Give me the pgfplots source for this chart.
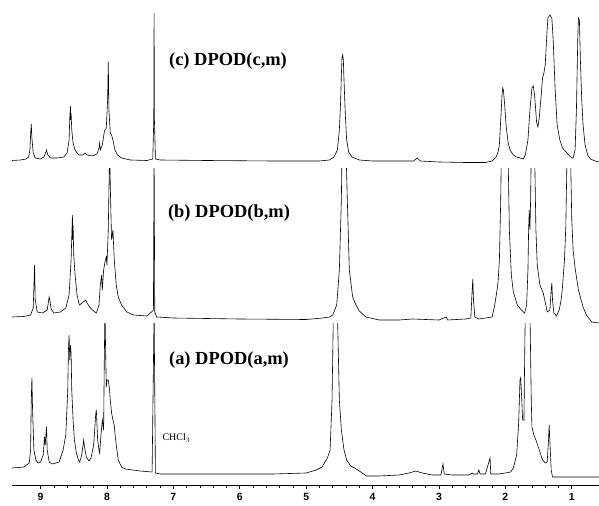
\documentclass[border=0pt]{standalone}
\usepackage{fontspec}
\setmainfont{Liberation Serif}
\newfontfamily\tickfont{Liberation Sans}
\usepackage{pgfplots}
\usepackage{pgfplotstable}
\pgfplotsset{compat=1.18}

\pgfplotstableread{
x y
9.43 160.5
9.30 160
9.22 159
9.18 157
9.16 150
9.15 135
9.14 124
9.13 138
9.11 153
9.08 158
9.00 159
8.95 157
8.92 152
8.91 150
8.89 155
8.85 158
8.75 158
8.65 157
8.60 153
8.57 140
8.56 118
8.55 106
8.545 120
8.54 113
8.53 130
8.51 143
8.48 150
8.46 152
8.42 155
8.36 155
8.33 153
8.30 155
8.22 156
8.15 154
8.12 148
8.11 143
8.10 150
8.07 145
8.04 132
8.03 130
8.01 128
7.99 100
7.98 62
7.97 110
7.95 133
7.93 135
7.91 140
7.88 150
7.84 155
7.78 158
7.65 160
7.40 160.5
7.31 159
7.295 120
7.29 13
7.285 120
7.27 159
7.20 160
6.50 160.5
5.50 161
4.80 161
4.65 160
4.58 157
4.53 150
4.50 130
4.48 100
4.47 75
4.46 58
4.45 55
4.44 60
4.43 80
4.41 115
4.39 140
4.36 152
4.31 157
4.20 160
4.00 161
3.50 161
3.38 161
3.33 158
3.28 161
3.00 162
2.60 162.5
2.30 162.5
2.20 161
2.14 157
2.11 152
2.09 145
2.07 120
2.05 95
2.04 88
2.03 90
2.01 105
1.99 125
1.96 142
1.93 150
1.88 155
1.83 157
1.78 158
1.73 159
1.70 155
1.66 140
1.63 110
1.60 88
1.58 86
1.56 95
1.53 122
1.51 127
1.49 118
1.46 95
1.44 78
1.42 73
1.40 65
1.38 40
1.36 18
1.33 15
1.30 18
1.28 40
1.25 90
1.22 125
1.18 140
1.14 148
1.10 151
1.06 154
1.00 158
0.98 158
0.95 150
0.93 110
0.91 40
0.90 18
0.885 20
0.87 60
0.85 100
0.83 125
0.80 145
0.76 155
0.72 159
0.65 161
0.59 162
}\specC

\pgfplotstableread{
x y
9.43 317
9.25 316.5
9.15 315
9.11 308
9.09 265
9.08 300
9.05 312
8.97 313
8.90 310
8.87 297
8.86 300
8.84 309
8.80 313
8.70 312
8.62 308
8.57 295
8.54 260
8.52 215
8.515 240
8.51 225
8.50 255
8.48 275
8.45 295
8.42 304
8.41 305
8.36 302
8.32 300
8.30 303
8.25 308
8.20 311
8.16 313
8.12 305
8.10 285
8.08 275
8.07 290
8.05 270
8.03 262
8.01 257
8.00 265
7.98 230
7.96 150
7.945 200
7.93 240
7.91 230
7.89 260
7.86 285
7.83 297
7.78 305
7.70 312
7.60 315
7.40 316
7.33 312
7.30 310
7.29 150
7.28 312
7.25 317
7.00 318
6.00 319
5.00 319.5
4.75 318
4.65 317
4.60 315
4.54 305
4.50 270
4.47 200
4.46 150
4.40 150
4.38 200
4.35 270
4.30 297
4.25 305
4.20 311
4.10 317
3.90 320
3.60 320
3.40 319
3.00 320
2.89 317
2.87 320
2.60 319
2.52 318
2.50 290
2.49 279
2.48 300
2.46 317
2.40 319
2.30 318
2.20 317
2.16 305
2.13 292
2.11 282
2.09 260
2.07 200
2.06 150
1.96 150
1.94 230
1.91 275
1.88 292
1.82 305
1.76 310
1.71 313
1.68 305
1.66 270
1.65 230
1.64 210
1.63 230
1.62 200
1.61 150
1.56 150
1.54 230
1.52 265
1.48 285
1.43 293
1.40 302
1.37 312
1.33 310
1.31 290
1.30 283
1.29 300
1.27 313
1.23 316
1.19 310
1.16 300
1.14 287
1.11 260
1.09 227
1.07 150
1.02 150
1.00 220
0.98 250
0.95 268
0.90 290
0.83 307
0.78 315
0.70 322
0.59 323
}\specB

\pgfplotstableread{
x y
9.43 468
9.25 467
9.17 463
9.15 450
9.14 400
9.13 378
9.12 410
9.10 450
9.07 460
9.04 463
9.00 462
8.96 455
8.94 437
8.93 445
8.91 427
8.90 450
8.87 462
8.82 464
8.72 462
8.66 450
8.62 435
8.59 390
8.58 350
8.57 335
8.56 360
8.55 345
8.54 353
8.53 390
8.51 420
8.49 440
8.46 453
8.43 460
8.41 462
8.38 455
8.36 445
8.35 440
8.34 446
8.31 457
8.27 461
8.24 458
8.20 445
8.17 415
8.16 410
8.14 440
8.12 450
8.11 453
8.09 435
8.07 420
8.05 430
8.04 360
8.03 310
8.02 350
8.01 387
8.00 380
7.98 380
7.97 385
7.96 390
7.95 400
7.93 413
7.91 420
7.89 425
7.88 433
7.86 445
7.83 460
7.78 467
7.72 469
7.50 471
7.32 472
7.29 310
7.27 473
7.20 474
6.50 474
5.50 474
5.00 473
4.85 470
4.76 467
4.68 458
4.64 450
4.61 400
4.59 310
4.53 310
4.50 400
4.47 430
4.43 450
4.39 460
4.33 466
4.27 468
4.20 471
4.09 476
3.90 476
3.60 475
3.45 473
3.35 471
3.25 473
3.10 475
2.97 475
2.94 464
2.92 474
2.80 475
2.55 475
2.50 473
2.48 474
2.42 474
2.40 470
2.38 474
2.30 474
2.24 460
2.23 458
2.22 474
2.10 474
2.00 473
1.92 472
1.88 468
1.83 455
1.80 423
1.78 380
1.77 378
1.76 390
1.74 420
1.72 420
1.71 360
1.70 310
1.63 310
1.61 400
1.60 427
1.57 435
1.54 440
1.49 450
1.44 460
1.40 463
1.37 462
1.35 440
1.34 425
1.33 440
1.31 470
1.29 477
1.20 477
0.59 477
}\specA

\pgfplotsset{spec/.style={
  scale only axis, width=587bp,
  xmin=0.59, xmax=9.43, x dir=reverse, y dir=reverse,
  axis lines=none, clip=true,
}}

\begin{document}
\begin{tikzpicture}
\useasboundingbox (0,0) rectangle (599bp,506bp);
% panel (c)
\begin{axis}[spec, at={(12bp,336bp)}, anchor=south west,
  height=156bp, ymin=14, ymax=170]
\addplot[black, line width=0.6pt] table {\specC};
\end{axis}
% panel (b)
\begin{axis}[spec, at={(12bp,176bp)}, anchor=south west,
  height=162bp, ymin=168, ymax=330]
\addplot[black, line width=0.6pt] table {\specB};
\end{axis}
% panel (a)
\begin{axis}[spec, at={(12bp,21bp)}, anchor=south west,
  height=162bp, ymin=323, ymax=485]
\addplot[black, line width=0.6pt] table {\specA};
\end{axis}
% ppm scale
\begin{axis}[scale only axis, width=587bp, height=1bp,
  at={(12bp,21bp)}, anchor=south west,
  xmin=0.59, xmax=9.43, x dir=reverse, ymin=0, ymax=1,
  axis x line*=bottom, axis y line=none,
  xtick={1,2,3,4,5,6,7,8,9}, minor x tick num=4,
  tick align=outside, major tick length=4bp, minor tick length=2.5bp,
  every tick/.style={black, line width=0.6pt},
  axis line style={black, line width=0.8pt, -},
  /pgf/number format/assume math mode=true,
  xticklabel style={font=\tickfont\bfseries\fontsize{10.5}{12}\selectfont, yshift=-3bp, inner sep=1bp},
]
\end{axis}
\node[font=\bfseries\fontsize{18.5}{22}\selectfont] at (228bp,445bp) {(c) DPOD(c,m)};
\node[font=\bfseries\fontsize{18.5}{22}\selectfont] at (229bp,293bp) {(b) DPOD(b,m)};
\node[font=\bfseries\fontsize{18.5}{22}\selectfont] at (229bp,146bp) {(a) DPOD(a,m)};
\node[font=\fontsize{10}{12}\selectfont, anchor=west] at (159bp,68bp) {CHCl$_3$};
\end{tikzpicture}
\end{document}
